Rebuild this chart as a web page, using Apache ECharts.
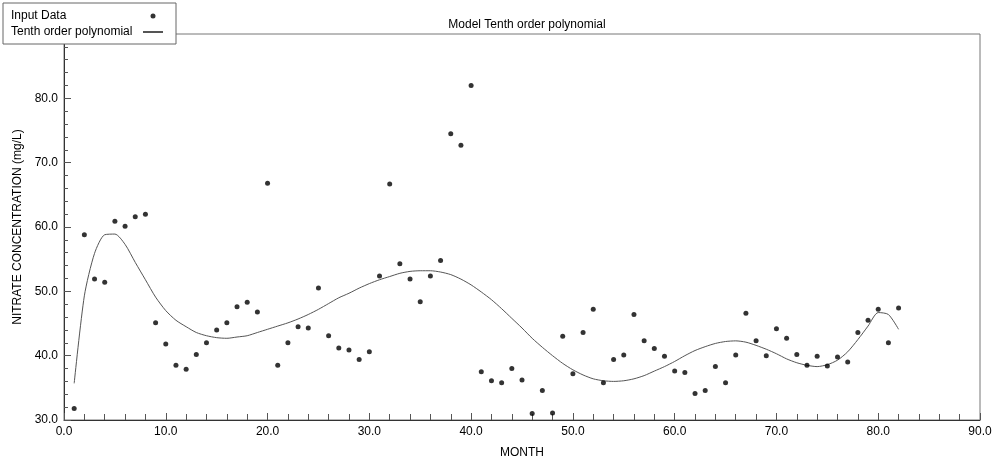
<!DOCTYPE html>
<html>
<head>
<meta charset="utf-8">
<script src="https://cdn.jsdelivr.net/npm/echarts@6/dist/echarts.min.js"></script>
<style>
  html, body { margin: 0; padding: 0; background: #fff; }
  #main { width: 993px; height: 460px; }
</style>
</head>
<body>
<div id="main"></div>
<script>
// measured nitrate values, months 1..82
var months = [];
for (var i = 1; i <= 82; i++) months.push(i);

var nitrate = [
    31.8, 58.8, 51.9, 51.4, 60.9, 60.1, 61.6, 62.0, 45.1, 41.8,
    38.5, 37.9, 40.2, 42.0, 44.0, 45.1, 47.6, 48.3, 46.8, 66.8,
    38.5, 42.0, 44.5, 44.3, 50.5, 43.1, 41.2, 40.9, 39.4, 40.6,
    52.4, 66.7, 54.3, 51.9, 48.4, 52.4, 54.8, 74.5, 72.7, 82.0,
    37.5, 36.1, 35.8, 38.0, 36.2, 31.0, 34.6, 31.1, 43.0, 37.2,
    43.6, 47.2, 35.8, 39.4, 40.1, 46.4, 42.3, 41.1, 39.9, 37.6,
    37.4, 34.1, 34.6, 38.3, 35.8, 40.1, 46.6, 42.3, 40.0, 44.2,
    42.7, 40.2, 38.5, 39.9, 38.4, 39.8, 39.0, 43.6, 45.5, 47.2,
    42.0, 47.4
];

// fitted tenth order polynomial, read at each month
var polyFit = [
    35.7, 49.3, 55.9, 58.8, 58.9, 57.3, 54.5, 51.8, 49.1, 47.0,
    45.5, 44.5, 43.6, 43.1, 42.8, 42.7, 42.9, 43.1, 43.6, 44.1,
    44.6, 45.1, 45.7, 46.4, 47.2, 48.1, 49.0, 49.7, 50.5, 51.2,
    51.8, 52.3, 52.8, 53.1, 53.2, 53.2, 53.0, 52.6, 51.9, 51.0,
    49.9, 48.7, 47.3, 45.8, 44.3, 42.7, 41.3, 40.0, 38.8, 37.8,
    37.0, 36.4, 36.1, 36.0, 36.1, 36.4, 36.9, 37.6, 38.3, 39.1,
    40.0, 40.8, 41.4, 41.9, 42.2, 42.3, 42.1, 41.6, 41.0, 40.3,
    39.5, 38.9, 38.5, 38.3, 38.6, 39.3, 40.6, 42.5, 44.6, 46.7,
    46.4, 44.1
];

var myChart = echarts.init(document.getElementById('main'));

var scatterData = months.map(function (m, i) { return [m, nitrate[i]]; });
var lineData = months.map(function (m, i) { return [m, polyFit[i]]; });

var font = 'Arial, "Liberation Sans", sans-serif';

var option = {
    animation: false,
    backgroundColor: '#fff',
    textStyle: { fontFamily: font },
    title: {
        text: 'Model Tenth order polynomial',
        left: 522,
        textAlign: 'center',
        top: 14,
        textStyle: { fontSize: 12, fontWeight: 'normal', color: '#000', fontFamily: font }
    },
    legend: {
        orient: 'vertical',
        left: 3,
        top: 3,
        align: 'right',
        backgroundColor: '#fff',
        borderColor: '#666',
        borderWidth: 1,
        padding: [7, 12, 6, 8],
        itemGap: 4,
        itemWidth: 20,
        itemHeight: 5,
        formatter: function (name) { return '{t|' + name + '}'; },
        textStyle: {
            fontSize: 12, color: '#000', fontFamily: font,
            rich: { t: { width: 127, align: 'left', fontSize: 12, fontFamily: font } }
        },
        data: [
            { name: 'Input Data' },
            { name: 'Tenth order polynomial', itemStyle: { color: 'rgba(0,0,0,0)', borderWidth: 0 } }
        ]
    },
    grid: {
        left: 64, right: 13, top: 34, bottom: 40,
        containLabel: false,
        outerBoundsMode: 'none',
        show: true, borderColor: '#777', borderWidth: 1
    },
    xAxis: {
        type: 'value',
        min: 0, max: 90, interval: 10,
        name: 'MONTH',
        nameLocation: 'middle',
        nameGap: 27,
        nameTextStyle: { fontSize: 12, color: '#000', fontFamily: font },
        axisLine: { lineStyle: { color: '#333' } },
        axisTick: { inside: true, length: 7, lineStyle: { color: '#555' } },
        minorTick: { show: true, splitNumber: 5, length: 6, lineStyle: { color: '#555' } },
        axisLabel: {
            fontSize: 12, color: '#000', margin: 6,
            formatter: function (v) { return v.toFixed(1); }
        },
        splitLine: { show: false }
    },
    yAxis: {
        type: 'value',
        min: 30, max: 90, interval: 10,
        name: 'NITRATE CONCENTRATION (mg/L)',
        nameLocation: 'middle',
        nameGap: 33,
        nameTextStyle: { fontSize: 12, color: '#000', fontFamily: font },
        axisLine: { show: true, lineStyle: { color: '#333' } },
        axisTick: { show: true, inside: true, length: 7, lineStyle: { color: '#555' } },
        minorTick: { show: true, splitNumber: 5, length: 4, lineStyle: { color: '#555' } },
        axisLabel: {
            fontSize: 12, color: '#000', margin: 6,
            formatter: function (v) { return v === 90 ? '' : v.toFixed(1); }
        },
        splitLine: { show: false }
    },
    series: [{
        name: 'Input Data',
        type: 'scatter',
        symbol: 'circle',
        symbolSize: 5,
        itemStyle: { color: '#000' },
        data: scatterData,
        z: 3
    }, {
        name: 'Tenth order polynomial',
        type: 'line',
        symbol: 'none',
        smooth: 0.25,
        lineStyle: { color: '#555', width: 1 },
        itemStyle: { color: '#555' },
        data: lineData,
        z: 2
    }]
};

myChart.setOption(option);
</script>
</body>
</html>
